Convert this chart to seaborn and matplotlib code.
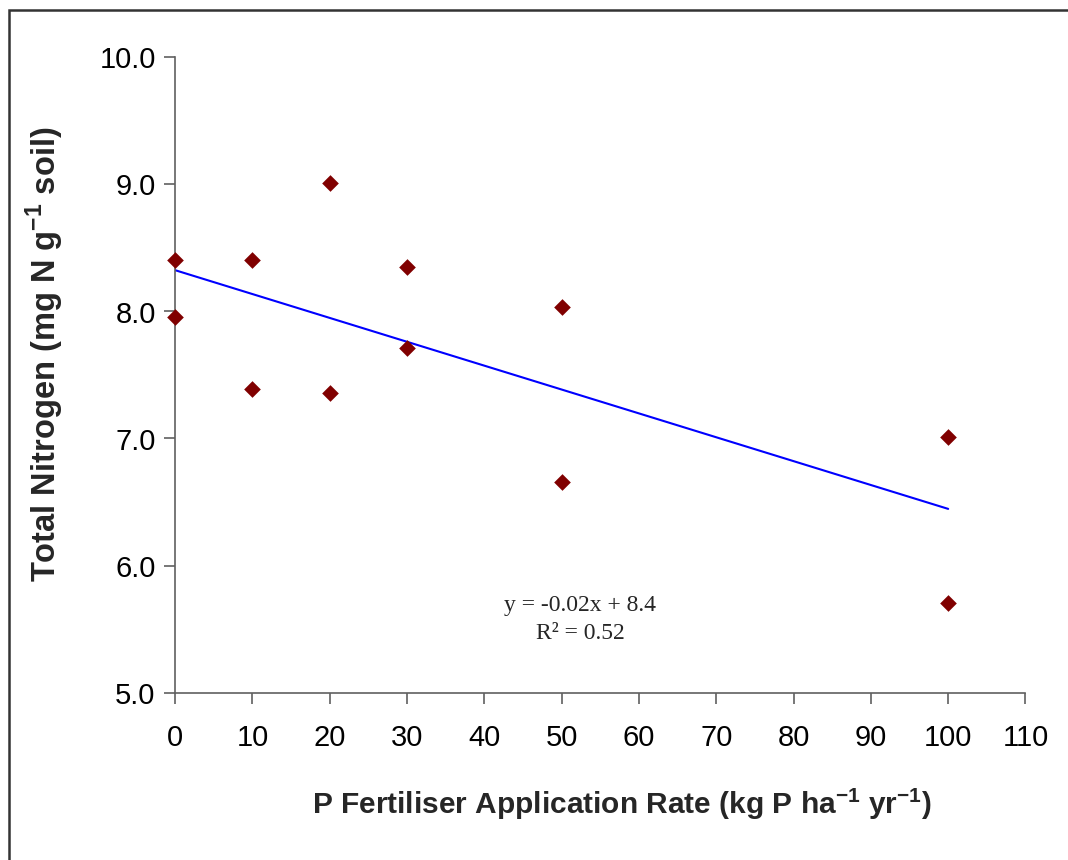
import numpy as np
import pandas as pd
import matplotlib
matplotlib.use("Agg")
import matplotlib.pyplot as plt
from matplotlib.ticker import FormatStrFormatter
from matplotlib.lines import Line2D
import seaborn as sns

# Data
p_rate = [0, 0, 10, 10, 20, 20, 30, 30, 50, 50, 100, 100]
total_n = [8.40, 7.95, 8.40, 7.39, 9.01, 7.36, 8.35, 7.71, 8.03, 6.66, 7.01, 5.71]
x_ticks = [0, 10, 20, 30, 40, 50, 60, 70, 80, 90, 100, 110]
y_ticks = [5.0, 6.0, 7.0, 8.0, 9.0, 10.0]
eq_text = "y = -0.02x + 8.4"
r2_text = "R\u00b2 = 0.52"

df = pd.DataFrame({"rate": p_rate, "n": total_n})

sns.set_style("ticks")
plt.rcParams["font.family"] = ["Liberation Sans", "DejaVu Sans"]
plt.rcParams["mathtext.fontset"] = "custom"
plt.rcParams["mathtext.rm"] = "Liberation Sans"
plt.rcParams["mathtext.bf"] = "Liberation Sans:bold"

W, H = 1068, 860
fig = plt.figure(figsize=((W + 0.5) / 100, (H + 0.5) / 100), dpi=100)
ax = fig.add_axes([175/W, 1-693/H, (1025-175)/W, (693-57)/H])

sns.regplot(data=df, x="rate", y="n", ax=ax, ci=None, marker="D",
            scatter_kws=dict(color="#800000", s=72, alpha=1, linewidths=0,
                             clip_on=False, zorder=3),
            line_kws=dict(color="#0000FF", lw=1.5, zorder=2))

ax.set_xlim(0, 110)
ax.set_ylim(5, 10)
ax.set_xticks(x_ticks)
ax.set_yticks(y_ticks)
ax.yaxis.set_major_formatter(FormatStrFormatter("%.1f"))
for s in ["top", "right"]:
    ax.spines[s].set_visible(False)
for s in ["left", "bottom"]:
    ax.spines[s].set_color("#606060")
    ax.spines[s].set_linewidth(1.2)
ax.tick_params(axis="both", direction="out", length=8, width=1.2, color="#606060",
               labelsize=21, labelcolor="black")
ax.tick_params(axis="x", pad=14)
ax.tick_params(axis="y", pad=6)

ax.set_xlabel("P Fertiliser Application Rate (kg P ha$^{\\mathbf{-1}}$ yr$^{\\mathbf{-1}}$)",
              fontsize=21.5, fontweight="bold")
ax.set_ylabel("Total Nitrogen (mg N g$^{\\mathbf{-1}}$ soil)",
              fontsize=23.5, fontweight="bold")
ax.xaxis.set_label_coords((622-175)/850, (693-786)/636)
ax.yaxis.set_label_coords((66-175)/850, (693-354)/636)

ax.text(52.4, 5.69, eq_text, ha="center", va="center", fontsize=17,
        family=["Liberation Serif", "DejaVu Serif"])
ax.text(52.4, 5.47, r2_text, ha="center", va="center", fontsize=17,
        family=["Liberation Serif", "DejaVu Serif"])

# Outer chart frame: only left and top edges fall inside the image
x0, ytop = 9/W, 1 - 10/H
fig.add_artist(Line2D([x0, x0, 1.02], [-0.02, ytop, ytop], transform=fig.transFigure,
                      color="#333333", lw=1.8, solid_joinstyle="miter",
                      solid_capstyle="butt", clip_on=False))

fig.savefig("out.png", dpi=100, facecolor="white")
